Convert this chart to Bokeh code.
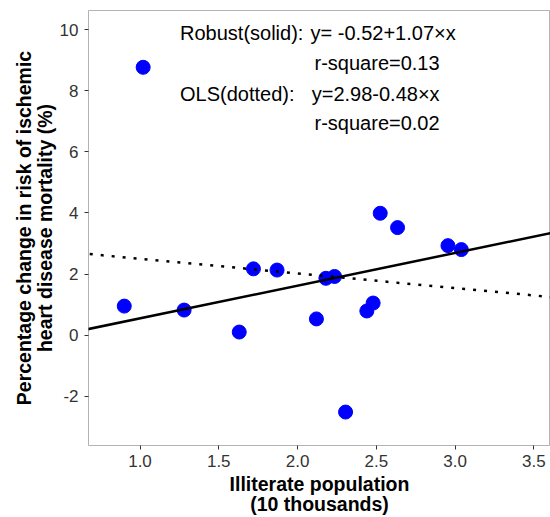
from bokeh.plotting import figure
from bokeh.models import Range1d, FixedTicker, NumeralTickFormatter, Slope, ColumnDataSource
from bokeh.core.properties import value
from bokeh.embed import file_html
from bokeh.resources import INLINE

# Data
illiterate = [0.90, 1.02, 1.28, 1.63, 1.72, 1.87, 2.12, 2.18, 2.235, 2.305, 2.44, 2.48, 2.525, 2.635, 2.955, 3.04]
pct_change = [0.95, 8.77, 0.82, 0.10, 2.17, 2.13, 0.53, 1.86, 1.92, -2.52, 0.79, 1.05, 3.99, 3.52, 2.93, 2.80]

robust_intercept, robust_slope = -0.52, 1.07
ols_intercept, ols_slope = 2.98, -0.48

x_ticks = [1.0, 1.5, 2.0, 2.5, 3.0, 3.5]
y_ticks = [-2, 0, 2, 4, 6, 8, 10]

label_left = ["Robust(solid):", "OLS(dotted):"]
label_right = ["y= -0.52+1.07\u00d7x", "r-square=0.13", "y=2.98-0.48\u00d7x", "r-square=0.02"]

FONT = "Liberation Sans"

p = figure(width=550, height=517, output_backend="svg", toolbar_location=None,
           x_range=Range1d(0.673, 3.606), y_range=Range1d(-3.615, 10.63),
           min_border_left=88, min_border_right=0, min_border_top=10, min_border_bottom=72)

p.background_fill_color = "white"
p.border_fill_color = "white"
p.xgrid.visible = False
p.ygrid.visible = False
p.outline_line_color = "#b3b3b3"
p.outline_line_width = 1

for ax in (p.xaxis[0], p.yaxis[0]):
    ax.axis_line_color = None
    ax.major_tick_line_color = "#333333"
    ax.major_tick_out = 4
    ax.major_tick_in = 0
    ax.minor_tick_line_color = None
    ax.major_label_text_font = FONT
    ax.major_label_text_font_size = "17px"
    ax.major_label_text_color = "#333333"
    ax.axis_label_text_font = FONT
    ax.axis_label_text_font_size = "19.5px"
    ax.axis_label_text_font_style = "bold"
    ax.axis_label_text_color = "black"
    ax.axis_label_text_line_height = 0.92

p.xaxis[0].ticker = FixedTicker(ticks=x_ticks)
p.xaxis[0].formatter = NumeralTickFormatter(format="0.0")
p.xaxis[0].axis_label = "Illiterate population\n(10 thousands)"
p.xaxis[0].major_label_standoff = 5
p.xaxis[0].axis_label_standoff = 3

p.yaxis[0].ticker = FixedTicker(ticks=y_ticks)
p.yaxis[0].formatter = NumeralTickFormatter(format="0")
p.yaxis[0].axis_label = "Percentage change in risk of ischemic\nheart disease mortality (%)"
p.yaxis[0].major_label_standoff = 6
p.yaxis[0].axis_label_standoff = 1

p.add_layout(Slope(gradient=robust_slope, y_intercept=robust_intercept,
                   line_color="black", line_width=2.5))
p.add_layout(Slope(gradient=ols_slope, y_intercept=ols_intercept,
                   line_color="black", line_width=2.5, line_dash="3 8"))

p.scatter(illiterate, pct_change, size=14, fill_color="#0000ff", line_color="#0000ff")

left_src = ColumnDataSource(dict(x=[1.254, 1.254], y=[9.885, 7.885], t=label_left))
right_src = ColumnDataSource(dict(x=[2.083, 2.108, 2.09, 2.108], y=[9.885, 8.90, 7.885, 6.93], t=label_right))
for src in (left_src, right_src):
    p.text(x="x", y="y", text="t", source=src, text_font=value(FONT),
           text_font_size="20px", text_align="left", text_baseline="middle", text_color="black")

open("out.html", "w").write(file_html(p, INLINE))
